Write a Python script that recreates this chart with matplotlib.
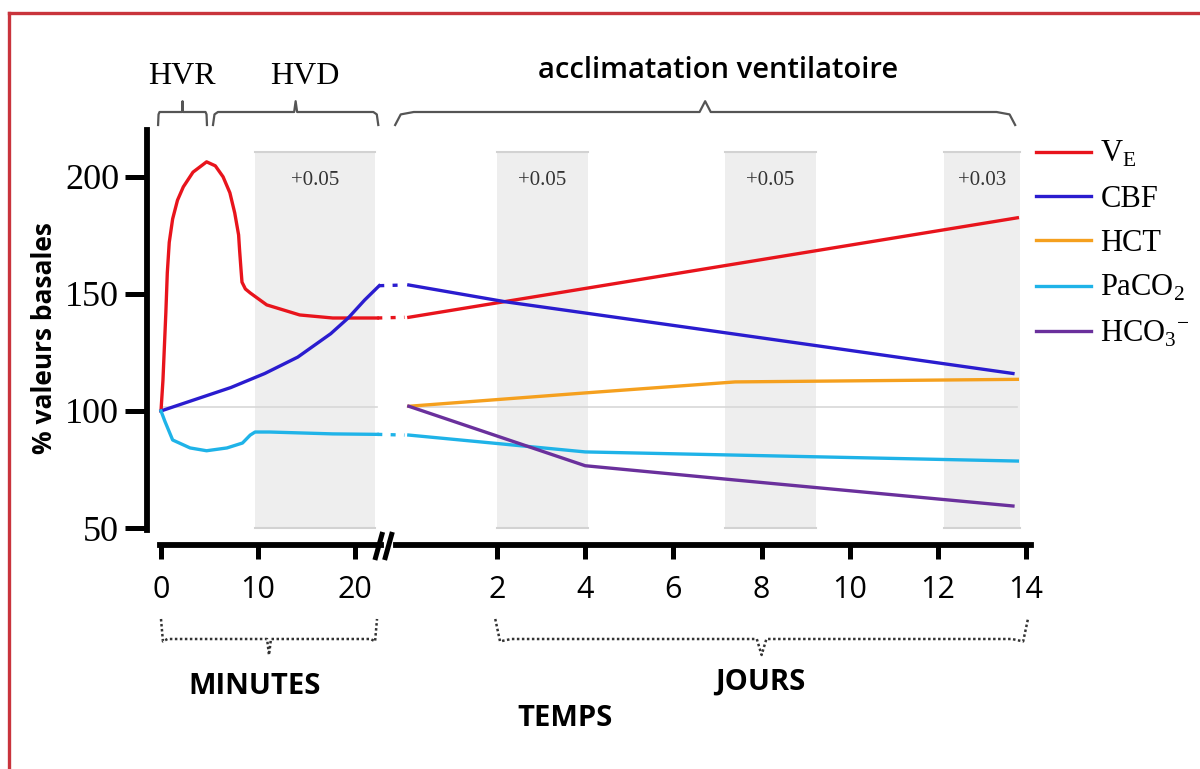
import matplotlib
matplotlib.use("Agg")
import matplotlib.pyplot as plt
from matplotlib.lines import Line2D
from matplotlib import font_manager

# ---- data ----
# minutes phase
ve_min_t = [0, 0.2, 0.5, 0.65, 0.85, 1.2, 1.7, 2.3, 3.3, 4.7, 5.6, 6.4, 7.1, 7.6, 8.0, 8.1, 8.25, 8.35, 8.7, 9.2, 10.9, 14.3, 17.7, 22.3]
ve_min_v = [100, 113, 142, 159, 172, 182, 190, 195.7, 202, 206.4, 204.7, 200, 193.2, 184.6, 175.2, 168.8, 160.3, 155, 152.1, 150.4, 145.3, 141, 139.7, 139.7]
cbf_min_t = [0, 7.2, 10.7, 14.1, 17.5, 19.3, 21.0, 22.5]
cbf_min_v = [100, 110, 116, 123, 133, 139.7, 147.4, 153.5]
paco2_min_t = [0, 0.4, 1.2, 3.0, 4.7, 6.8, 8.4, 9.2, 9.7, 11.2, 17.7, 22.3]
paco2_min_v = [100, 95.6, 87.6, 84.2, 83, 84.2, 86.3, 89.7, 91, 91, 90.2, 90]

# days phase
ve_day_t = [0, 13.8]
ve_day_v = [140, 182.5]
cbf_day_t = [0, 2.2, 6.2, 13.7]
cbf_day_v = [153.8, 146.6, 136, 116]
hct_day_t = [0, 4.0, 7.4, 13.8]
hct_day_v = [102, 107.7, 112.4, 113.5]
paco2_day_t = [0, 4.0, 13.8]
paco2_day_v = [89.7, 82.5, 78.6]
hco3_day_t = [0, 4.0, 7.4, 13.7]
hco3_day_v = [102, 76.6, 70.5, 59.4]

# shaded windows (start, end, label)
min_boxes = [(9.7, 22.06, "+0.05")]
day_boxes = [(2.0, 4.06, "+0.05"), (7.17, 9.23, "+0.05"), (12.14, 13.86, "+0.03")]

min_ticks = [0, 10, 20]
day_ticks = [2, 4, 6, 8, 10, 12, 14]
y_ticks = [50, 100, 150, 200]

labels = [r"V$_\mathregular{E}$", "CBF", "HCT", r"PaCO$_\mathregular{2}$", r"HCO$_\mathregular{3}$$^\mathregular{-}$"]
colors = ["#e8141c", "#2a1ccf", "#f5a01e", "#1fb3e8", "#6a309c"]

names = {f.name for f in font_manager.fontManager.ttflist}
narrow = "Liberation Sans Narrow" if "Liberation Sans Narrow" in names else "Open Sans"
serif = "Liberation Serif"
plt.rcParams["mathtext.fontset"] = "custom"
plt.rcParams["mathtext.rm"] = serif

W, H = 1200, 769
fig = plt.figure(figsize=(12, 7.69), dpi=100)

def fx(px):
    return px / W

def fy(py):
    return 1 - py / H

ax1 = fig.add_axes([fx(147), fy(530), fx(410 - 147), 400 / H])
ax2 = fig.add_axes([fx(400), fy(530), fx(1035 - 400), 400 / H])
for ax in (ax1, ax2):
    ax.set_ylim(49.15, 220)
    ax.patch.set_alpha(0)
    for s in ("top", "right"):
        ax.spines[s].set_visible(False)
ax1.set_xlim(-1.443, 25.67)
ax2.set_xlim(-0.2, 14.2)

lw = 2.4
box_col = "#eeeeee"
edge_col = "#d2d2d2"

# shaded boxes
for ax, boxes in ((ax1, min_boxes), (ax2, day_boxes)):
    for x0, x1, lab in boxes:
        ax.fill_between([x0, x1], 50, 210.7, color=box_col, lw=0, zorder=0)
        ax.plot([x0, x1], [210.7, 210.7], color=edge_col, lw=1.5, zorder=0.5)
        ax.plot([x0, x1], [50, 50], color=edge_col, lw=1.5, zorder=0.5)
        ax.text((x0 + x1) / 2, 198.5, lab, ha="center", va="center",
                fontsize=15, family=serif, color="#333333")

# baseline at 100
ax1.plot([0, 22.3], [101.5, 101.5], color="#d8d8d8", lw=1.2, zorder=1)
ax2.plot([0, 13.8], [101.5, 101.5], color="#d8d8d8", lw=1.2, zorder=1)

# minute curves
ax1.plot(ve_min_t, ve_min_v, color=colors[0], lw=lw, zorder=3, solid_joinstyle="round")
ax1.plot(cbf_min_t, cbf_min_v, color=colors[1], lw=lw, zorder=3)
ax1.plot(paco2_min_t, paco2_min_v, color=colors[3], lw=lw, zorder=3)

# dotted links across the break
dots = (0, (1.5, 2.5))
ax1.plot([ve_min_t[-1], 25.1], [ve_min_v[-1], ve_day_v[0]], color=colors[0], lw=lw, ls=dots, zorder=3)
ax1.plot([cbf_min_t[-1], 25.1], [cbf_min_v[-1], cbf_day_v[0]], color=colors[1], lw=lw, ls=dots, zorder=3)
ax1.plot([paco2_min_t[-1], 25.1], [paco2_min_v[-1], paco2_day_v[0]], color=colors[3], lw=lw, ls=dots, zorder=3)

# day curves
handles = []
for t, v, c, lab in ((ve_day_t, ve_day_v, colors[0], labels[0]),
                     (cbf_day_t, cbf_day_v, colors[1], labels[1]),
                     (hct_day_t, hct_day_v, colors[2], labels[2]),
                     (paco2_day_t, paco2_day_v, colors[3], labels[3]),
                     (hco3_day_t, hco3_day_v, colors[4], labels[4])):
    h, = ax2.plot(t, v, color=c, lw=lw, label=lab, zorder=3)
    handles.append(h)

# axes styling
spw = 4.2
ax1.spines["left"].set_linewidth(spw)
ax1.spines["left"].set_bounds(49.15, 220)
ax2.spines["left"].set_visible(False)
for ax in (ax1, ax2):
    ax.spines["bottom"].set_position(("outward", 10.5))
    ax.spines["bottom"].set_linewidth(spw)
ax1.spines["bottom"].set_bounds(-0.15, 22.7)
ax2.spines["bottom"].set_bounds(-0.29, 14.1)

ax1.set_yticks(y_ticks)
ax1.set_yticklabels([str(v) for v in y_ticks], family=serif, fontsize=26)
ax1.tick_params(axis="y", direction="out", length=16, width=3.6, pad=4)
ax2.set_yticks([])

ax1.set_xticks(min_ticks)
ax2.set_xticks(day_ticks)
for ax, ticks in ((ax1, min_ticks), (ax2, day_ticks)):
    ax.set_xticklabels([str(v) for v in ticks], family="Open Sans", fontsize=22)
    ax.tick_params(axis="x", direction="out", length=10, width=3.6, pad=12)

# break marks "//"
tr1 = ax1.get_xaxis_transform()
for dx in (0, 1.0):
    ax1.plot([22.05 + dx, 22.85 + dx], [-0.075, -0.005], color="black", lw=3.6,
             transform=tr1, clip_on=False, solid_capstyle="butt")

ax1.set_ylabel("% valeurs basales", fontsize=19, fontweight="bold", family="Open Sans")
ax1.yaxis.set_label_coords(-0.34, 0.48)


# curly braces
def brace(ax, x0, x1, y_end, y_h, y_top, **kw):
    d = (x1 - x0) * 0.03
    xc = (x0 + x1) / 2
    ax.plot([x0, x0 + d * 0.3, x0 + d, xc - d * 0.3, xc, xc + d * 0.3, x1 - d, x1 - d * 0.3, x1],
            [y_end, y_h - 0.006, y_h, y_h, y_top, y_h, y_h, y_h - 0.006, y_end],
            transform=ax.get_xaxis_transform(), clip_on=False, **kw)


top_kw = dict(color="#555555", lw=1.6)
brace(ax1, -0.3, 4.74, 1.0125, 1.045, 1.072, **top_kw)
brace(ax1, 5.36, 22.4, 1.0125, 1.045, 1.072, **top_kw)
brace(ax2, -0.31, 13.75, 1.0125, 1.045, 1.072, **top_kw)

bot_kw = dict(color="#333333", lw=1.8, ls=(0, (1, 1)))
brace(ax1, 0, 22.27, -0.2225, -0.2725, -0.3125, **bot_kw)
brace(ax2, 1.96, 14.04, -0.2225, -0.2725, -0.3125, **bot_kw)

# texts
fig.text(fx(182), fy(77), "HVR", ha="center", va="center", fontsize=23, family=serif)
fig.text(fx(305), fy(77), "HVD", ha="center", va="center", fontsize=23, family=serif)
fig.text(fx(718), fy(70), "acclimatation ventilatoire", ha="center", va="center",
         fontsize=21, family="Open Sans", fontweight="semibold")
fig.text(fx(255), fy(687), "MINUTES", ha="center", va="center", fontsize=21, family=narrow, fontweight="bold")
fig.text(fx(760), fy(682), "JOURS", ha="center", va="center", fontsize=21, family=narrow, fontweight="bold")
fig.text(fx(565), fy(718), "TEMPS", ha="center", va="center", fontsize=21, family=narrow, fontweight="bold")

# legend
fig.legend(handles=handles, loc="upper left", bbox_to_anchor=(fx(1021), fy(124)),
           frameon=False, prop={"family": serif, "size": 22}, handlelength=1.8,
           handletextpad=0.3, labelspacing=0.5, borderpad=0)

# red frame
fig.add_artist(Line2D([fx(9), 1], [fy(13), fy(13)], color="#c9343c", lw=2.4))
fig.add_artist(Line2D([fx(9), fx(9)], [0, fy(13)], color="#c9343c", lw=2.4))

fig.savefig("out.png", dpi=100)
